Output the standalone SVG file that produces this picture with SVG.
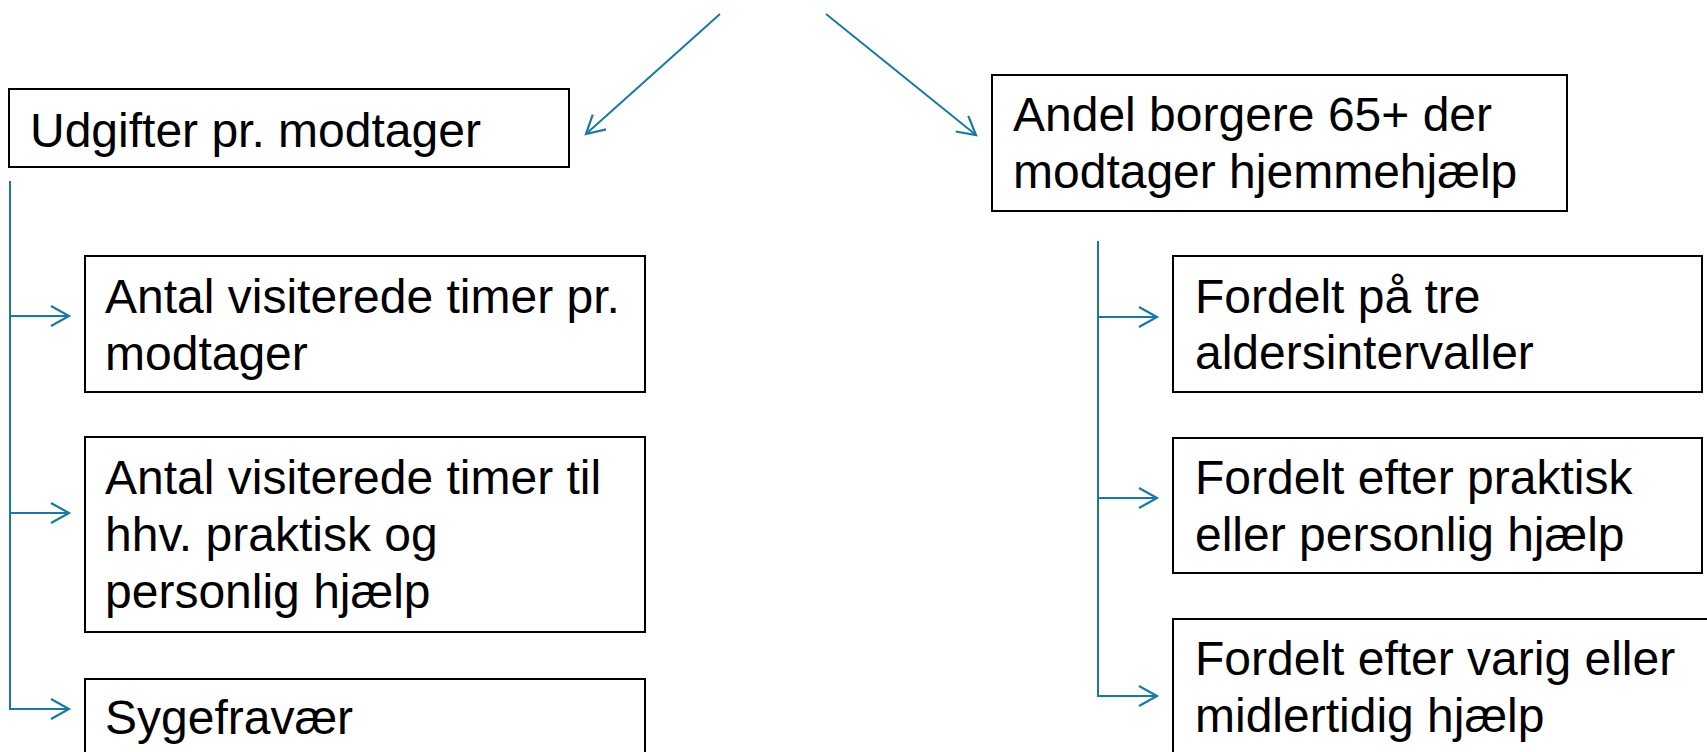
<svg xmlns="http://www.w3.org/2000/svg" width="1707" height="752" viewBox="0 0 1707 752">
<style>
.box{fill:#fff;stroke:#000;stroke-width:2}
.t{font-family:"Liberation Sans",Arial,sans-serif;font-size:48px;fill:#000}
.c{fill:none;stroke:#1A7A9E;stroke-width:2}
</style>
<defs>
<marker id="arr" markerUnits="userSpaceOnUse" markerWidth="24" markerHeight="24" refX="20" refY="11" orient="auto">
<path d="M2,1 L20,11 L2,21" fill="none" stroke="#1A7A9E" stroke-width="2.2"/>
</marker>
</defs>
<rect width="1707" height="752" fill="#fff"/>
<g id="connectors">
<line class="c" x1="720" y1="14" x2="586" y2="134" marker-end="url(#arr)"/>
<line class="c" x1="826" y1="14" x2="976" y2="135" marker-end="url(#arr)"/>
<line class="c" x1="10" y1="181" x2="10" y2="710"/>
<line class="c" x1="9" y1="316" x2="69" y2="316" marker-end="url(#arr)"/>
<line class="c" x1="9" y1="513" x2="69" y2="513" marker-end="url(#arr)"/>
<line class="c" x1="9" y1="709" x2="69" y2="709" marker-end="url(#arr)"/>
<line class="c" x1="1098" y1="241" x2="1098" y2="697"/>
<line class="c" x1="1097" y1="317" x2="1157" y2="317" marker-end="url(#arr)"/>
<line class="c" x1="1097" y1="498" x2="1157" y2="498" marker-end="url(#arr)"/>
<line class="c" x1="1097" y1="696" x2="1157" y2="696" marker-end="url(#arr)"/>
</g>
<g id="udgifter">
<rect class="box" x="9" y="89" width="560" height="78"/>
<text class="t" x="30" y="147">Udgifter pr. modtager</text>
</g>
<g id="antal-pr-modtager">
<rect class="box" x="85" y="256" width="560" height="136"/>
<text class="t" x="105" y="313">Antal visiterede timer pr.</text>
<text class="t" x="105" y="370">modtager</text>
</g>
<g id="antal-hhv">
<rect class="box" x="85" y="437" width="560" height="195"/>
<text class="t" x="105" y="494">Antal visiterede timer til</text>
<text class="t" x="105" y="551">hhv. praktisk og</text>
<text class="t" x="105" y="608">personlig hjælp</text>
</g>
<g id="sygefravaer">
<rect class="box" x="85" y="679" width="560" height="120"/>
<text class="t" x="105" y="734">Sygefravær</text>
</g>
<g id="andel">
<rect class="box" x="992" y="75" width="575" height="136"/>
<text class="t" x="1013" y="131">Andel borgere 65+ der</text>
<text class="t" x="1013" y="188">modtager hjemmehjælp</text>
</g>
<g id="fordelt-alder">
<rect class="box" x="1173" y="256" width="529" height="136"/>
<text class="t" x="1195" y="313">Fordelt på tre</text>
<text class="t" x="1195" y="369">aldersintervaller</text>
</g>
<g id="fordelt-praktisk">
<rect class="box" x="1173" y="438" width="529" height="135"/>
<text class="t" x="1195" y="494">Fordelt efter praktisk</text>
<text class="t" x="1195" y="551">eller personlig hjælp</text>
</g>
<g id="fordelt-varig">
<rect class="box" x="1173" y="619" width="560" height="180"/>
<text class="t" x="1195" y="675">Fordelt efter varig eller</text>
<text class="t" x="1195" y="732">midlertidig hjælp</text>
</g>
</svg>
